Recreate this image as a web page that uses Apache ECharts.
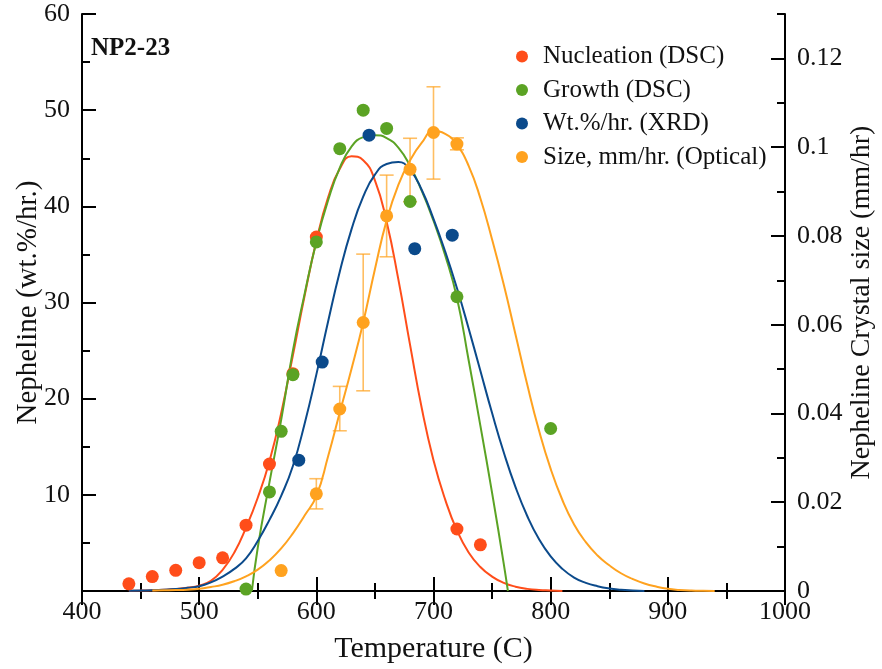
<!DOCTYPE html>
<html>
<head>
<meta charset="utf-8">
<title>NP2-23 nepheline crystallization</title>
<script src="https://cdn.jsdelivr.net/npm/echarts@6/dist/echarts.min.js"></script>
<style>
  html, body { margin: 0; padding: 0; background: #fff; }
  #chart { width: 882px; height: 669px; }
</style>
</head>
<body>
<div id="chart"></div>
<script>
// Measured points (temperature in C)
const nucleationT = [440, 460, 480, 500, 520, 540, 560, 580, 600, 720, 740];
const nucleationV = [0.75, 1.5, 2.15, 2.95, 3.45, 6.85, 13.2, 22.6, 36.8, 6.45, 4.8];

const growthT = [540, 560, 570, 580, 600, 620, 640, 660, 680, 720, 800];
const growthV = [0.2, 10.3, 16.6, 22.5, 36.3, 46.0, 50.0, 48.1, 40.5, 30.6, 16.9];

const xrdT = [585, 605, 645, 684, 716];
const xrdV = [13.6, 23.8, 47.4, 35.6, 37.0];

// Optical crystal size rate (mm/hr), right axis, with error bar limits
const sizeT = [570, 600, 620, 640, 660, 680, 700, 720];
const sizeV = [0.0046, 0.0219, 0.0410, 0.0605, 0.0845, 0.0950, 0.1033, 0.1007];
const sizeLow = [null, 0.0185, 0.0361, 0.0451, 0.0753, 0.0877, 0.0928, 0.0994];
const sizeHigh = [null, 0.0253, 0.0461, 0.0759, 0.0937, 0.1020, 0.1136, 0.1021];

// Fitted curves
const nucleationFitT = [440, 450, 460, 470, 480, 490, 500, 510, 520, 530, 540, 550, 560, 570, 580, 590, 600, 610, 620, 630, 640, 650, 660, 670, 680, 690, 700, 710, 720, 730, 740, 750, 760, 770, 780, 790, 800, 810];
const nucleationFitV = [0.02, 0.04, 0.07, 0.12, 0.2, 0.33, 0.55, 1.05, 2.2, 4.0, 6.6, 9.7, 13.5, 18.5, 24.5, 30.7, 36.4, 40.9, 43.9, 45.2, 44.8, 42.7, 38.4, 32.4, 25.6, 19.0, 13.6, 9.5, 6.3, 4.0, 2.5, 1.5, 0.85, 0.45, 0.22, 0.1, 0.05, 0];

const growthFitT = [545, 550, 560, 570, 580, 590, 600, 610, 620, 630, 640, 650, 660, 670, 680, 690, 700, 710, 720, 730, 740, 750, 760, 763.5];
const growthFitV = [0, 4.5, 11.3, 17.8, 25.0, 30.9, 36.3, 40.6, 44.0, 46.2, 47.2, 47.4, 47.1, 46.1, 44.2, 41.6, 38.5, 34.9, 30.5, 24.0, 17.2, 10.2, 2.8, 0];

const xrdFitT = [440, 450, 460, 470, 480, 490, 500, 510, 520, 530, 540, 550, 560, 570, 580, 590, 600, 610, 620, 630, 640, 650, 660, 670, 680, 690, 700, 710, 720, 730, 740, 750, 760, 770, 780, 790, 800, 810, 820, 830, 840, 850, 860, 870, 880];
const xrdFitV = [0.02, 0.05, 0.08, 0.13, 0.2, 0.33, 0.5, 0.9, 1.5, 2.3, 3.4, 5.2, 7.4, 9.9, 13.0, 17.4, 22.5, 28.0, 33.2, 37.6, 41.0, 43.3, 44.4, 44.6, 43.8, 41.7, 38.7, 35.3, 31.5, 27.3, 22.9, 18.5, 14.4, 10.8, 7.8, 5.4, 3.6, 2.3, 1.4, 0.85, 0.5, 0.27, 0.14, 0.06, 0];

const sizeFitT = [460, 470, 480, 490, 500, 510, 520, 530, 540, 550, 560, 570, 580, 590, 600, 610, 620, 630, 640, 650, 660, 670, 680, 690, 700, 710, 720, 730, 740, 750, 760, 770, 780, 790, 800, 810, 820, 830, 840, 850, 860, 870, 880, 890, 900, 910, 920, 930, 940];
const sizeFitV = [0.0001, 0.00015, 0.0002, 0.0003, 0.0005, 0.0009, 0.0014, 0.0022, 0.0033, 0.0048, 0.0069, 0.0096, 0.0130, 0.0170, 0.0214, 0.0303, 0.0402, 0.0500, 0.0605, 0.0725, 0.0835, 0.0915, 0.0970, 0.1010, 0.1036, 0.1030, 0.1005, 0.0958, 0.0885, 0.0792, 0.0690, 0.0578, 0.0465, 0.0362, 0.0275, 0.0205, 0.0150, 0.0110, 0.0080, 0.0058, 0.0040, 0.0027, 0.0017, 0.0010, 0.0005, 0.00025, 0.0001, 0.00003, 0];

const seriesNames = ['Nucleation (DSC)', 'Growth (DSC)', 'Wt.%/hr. (XRD)', 'Size, mm/hr. (Optical)'];
const colors = { red: '#ff4d1a', green: '#5ba324', blue: '#0b4a8b', orange: '#ffa21f' };

const FONT = '"Liberation Serif", "Times New Roman", serif';
const zip = (xs, ys) => xs.map((x, i) => [x, ys[i]]);

const errorData = sizeT
  .map((t, i) => [t, sizeLow[i], sizeHigh[i]])
  .filter(d => d[1] !== null);

const tickLabel = { fontFamily: FONT, fontSize: 26, color: '#111' };
const axisLineStyle = { lineStyle: { color: '#000', width: 2 } };
const majorTick = { inside: true, length: 14, lineStyle: { color: '#000', width: 2 } };
const minorTick = { show: true, splitNumber: 2, length: 8, lineStyle: { color: '#000', width: 2 } };

function fitLine(name, t, v, color, yAxisIndex) {
  return {
    name: name, type: 'line', data: zip(t, v), yAxisIndex: yAxisIndex || 0,
    showSymbol: false, smooth: 0.5, z: 2, silent: true,
    lineStyle: { color: color, width: 2 }, itemStyle: { color: color }
  };
}

function dots(name, t, v, color, yAxisIndex) {
  return {
    name: name, type: 'scatter', data: zip(t, v), yAxisIndex: yAxisIndex || 0,
    symbol: 'circle', symbolSize: 13, z: 5,
    itemStyle: { color: color, opacity: 1 }
  };
}

const chart = echarts.init(document.getElementById('chart'), null, { renderer: 'canvas' });

chart.setOption({
  animation: false,
  backgroundColor: '#fff',
  grid: { left: 82, right: 97, top: 14, bottom: 78, containLabel: false, outerBoundsMode: 'none' },
  legend: {
    data: seriesNames,
    orient: 'vertical',
    left: 511, top: 39,
    itemWidth: 32, itemHeight: 12, itemGap: 8.5,
    icon: 'circle',
    textStyle: { fontFamily: FONT, fontSize: 25, color: '#111' },
    selectedMode: false
  },
  graphic: [{
    type: 'text', left: 91, top: 36,
    style: { text: 'NP2-23', font: 'bold 25px ' + FONT, fill: '#111' }
  }],
  xAxis: [{
    type: 'value', min: 400, max: 1000, interval: 100, position: 'bottom',
    axisLine: axisLineStyle, axisTick: majorTick, minorTick: minorTick,
    splitLine: { show: false },
    axisLabel: Object.assign({ margin: 8, formatter: v => String(v) }, tickLabel),
    name: 'Temperature (C)', nameLocation: 'middle', nameGap: 43, nameMoveOverlap: false,
    nameTextStyle: { fontFamily: FONT, fontSize: 30, color: '#111' }
  }, {
    type: 'value', min: 400, max: 1000, interval: 100, position: 'top',
    axisLine: axisLineStyle, axisTick: majorTick, minorTick: minorTick,
    splitLine: { show: false },
    axisLabel: { show: false }
  }],
  yAxis: [{
    type: 'value', min: 0, max: 60, interval: 10, position: 'left',
    axisLine: axisLineStyle, axisTick: majorTick, minorTick: minorTick,
    splitLine: { show: false },
    axisLabel: Object.assign({ margin: 12, showMinLabel: false }, tickLabel),
    name: 'Nepheline (wt.%/hr.)', nameLocation: 'middle', nameRotate: 90, nameGap: 39, nameMoveOverlap: false,
    nameTextStyle: { fontFamily: FONT, fontSize: 29, color: '#111' }
  }, {
    type: 'value', min: 0, max: 0.13, interval: 0.02, position: 'right',
    axisLine: axisLineStyle, axisTick: majorTick,
    splitLine: { show: false },
    axisLabel: Object.assign({ margin: 12, showMaxLabel: false }, tickLabel),
    name: 'Nepheline Crystal size (mm/hr)', nameLocation: 'middle', nameRotate: 90, nameGap: 63, nameMoveOverlap: false,
    nameTextStyle: { fontFamily: FONT, fontSize: 28, color: '#111' }
  }, {
    // minor ticks for the size axis
    type: 'value', min: 0, max: 0.13, interval: 0.01, position: 'right',
    axisLine: { show: false },
    axisTick: { inside: true, length: 8, lineStyle: { color: '#000', width: 2 } },
    splitLine: { show: false },
    axisLabel: { show: false }
  }],
  series: [
    fitLine('Nucleation fit', nucleationFitT, nucleationFitV, colors.red),
    fitLine('Growth fit', growthFitT, growthFitV, colors.green),
    fitLine('XRD fit', xrdFitT, xrdFitV, colors.blue),
    fitLine('Size fit', sizeFitT, sizeFitV, colors.orange, 1),
    {
      name: 'Size error', type: 'custom', yAxisIndex: 1, z: 3, silent: true,
      data: errorData,
      renderItem: function (params, api) {
        const x = api.value(0);
        const lo = api.coord([x, api.value(1)]);
        const hi = api.coord([x, api.value(2)]);
        const half = 7;
        const style = { stroke: 'rgba(255,162,31,0.7)', lineWidth: 1.6 };
        return {
          type: 'group',
          children: [
            { type: 'line', shape: { x1: lo[0], y1: lo[1], x2: hi[0], y2: hi[1] }, style: style },
            { type: 'line', shape: { x1: lo[0] - half, y1: lo[1], x2: lo[0] + half, y2: lo[1] }, style: style },
            { type: 'line', shape: { x1: hi[0] - half, y1: hi[1], x2: hi[0] + half, y2: hi[1] }, style: style }
          ]
        };
      }
    },
    dots(seriesNames[0], nucleationT, nucleationV, colors.red),
    dots(seriesNames[1], growthT, growthV, colors.green),
    dots(seriesNames[2], xrdT, xrdV, colors.blue),
    dots(seriesNames[3], sizeT, sizeV, colors.orange, 1)
  ]
});
</script>
</body>
</html>
